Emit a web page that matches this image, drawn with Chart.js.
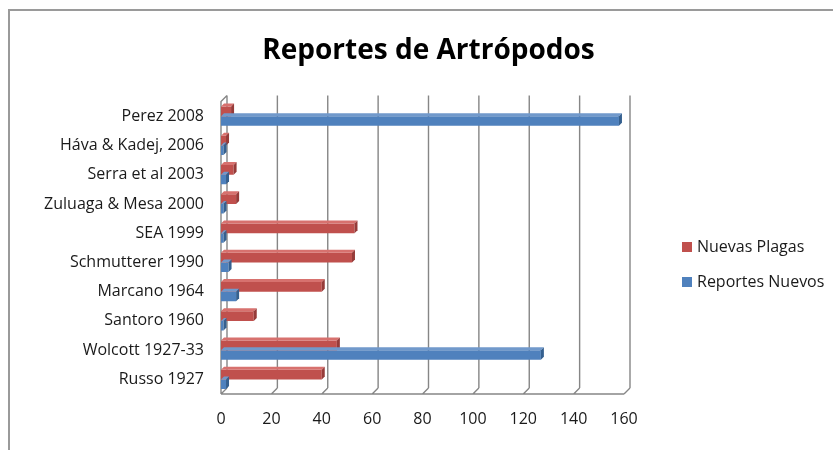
<!DOCTYPE html>
<html>
<head>
<meta charset="utf-8">
<script src="https://cdn.jsdelivr.net/npm/chart.js@4.4.1/dist/chart.umd.min.js"></script>
<style>
  html,body{margin:0;padding:0;background:#fff;}
  #wrap{width:833px;height:450px;}
</style>
</head>
<body>
<div id="wrap"><canvas id="c" width="833" height="450"></canvas></div>
<script>
// ----- data (top to bottom as in the picture) -----
const categories = ["Perez 2008","Háva & Kadej, 2006","Serra et al 2003","Zuluaga & Mesa 2000","SEA 1999",
  "Schmutterer 1990","Marcano 1964","Santoro 1960","Wolcott 1927-33","Russo 1927"];
const nuevasPlagas   = [4, 2, 5, 6, 53, 52, 40, 13, 46, 40];
const reportesNuevos = [158, 1, 2, 1, 1, 3, 6, 1, 127, 2];
const xMin = 0, xMax = 160, xStep = 20;
const seriesNames = ["Nuevas Plagas","Reportes Nuevos"];

const FONT = "'Open Sans', 'DejaVu Sans', sans-serif";
const RED  = {face:"#C0504D", top:"#D7716E", side:"#963B39"};
const BLUE = {face:"#4F81BD", top:"#7199CB", side:"#35608F"};

// frame, back wall, floor and grid (drawn behind the bars)
const wallPlugin = {
  id:"wall",
  beforeDraw(chart){
    const ctx = chart.ctx;
    ctx.save();
    ctx.strokeStyle = "#9a9a9a"; ctx.lineWidth = 2;
    ctx.beginPath(); ctx.moveTo(9, 460); ctx.lineTo(9, 10); ctx.lineTo(840, 10); ctx.stroke();
    ctx.restore();
  },
  beforeDatasetsDraw(chart){
    const {ctx, chartArea:{left,right,top,bottom}} = chart;
    const xs = chart.scales.x, d = 6;
    ctx.save();
    ctx.strokeStyle = "#868686"; ctx.lineWidth = 1.4;
    ctx.beginPath();
    for(let v=xMin; v<=xMax; v+=xStep){
      const px = xs.getPixelForValue(v);
      ctx.moveTo(px+d, top-d); ctx.lineTo(px+d, bottom-d);
      ctx.moveTo(px, bottom);  ctx.lineTo(px+d, bottom-d);
    }
    ctx.moveTo(left, bottom); ctx.lineTo(right, bottom);
    ctx.moveTo(left, bottom); ctx.lineTo(left, top);
    ctx.lineTo(left+d, top-d);
    ctx.stroke();
    ctx.restore();
  }
};

// top and end faces for the 3D look
const depthPlugin = {
  id:"depth",
  afterDatasetsDraw(chart){
    const ctx = chart.ctx, bd = 3;
    [RED, BLUE].forEach((col, i)=>{
      chart.getDatasetMeta(i).data.forEach(el=>{
        const p = el.getProps(["x","y","base","height"], true);
        const y0 = p.y - p.height/2, y1 = p.y + p.height/2;
        ctx.save();
        ctx.fillStyle = col.top;
        ctx.beginPath();
        ctx.moveTo(p.base, y0); ctx.lineTo(p.x, y0);
        ctx.lineTo(p.x+bd, y0-bd); ctx.lineTo(p.base+bd, y0-bd); ctx.closePath(); ctx.fill();
        ctx.fillStyle = col.side;
        ctx.beginPath();
        ctx.moveTo(p.x, y0); ctx.lineTo(p.x+bd, y0-bd);
        ctx.lineTo(p.x+bd, y1-bd); ctx.lineTo(p.x, y1); ctx.closePath(); ctx.fill();
        ctx.restore();
      });
    });
  }
};

// legend to the right of the plot
const legendPlugin = {
  id:"sideLegend",
  afterDraw(chart){
    const ctx = chart.ctx;
    const rows = [{y:247}, {y:282}];
    ctx.save();
    ctx.font = "16px " + FONT; ctx.textBaseline = "middle";
    chart.data.datasets.forEach((ds, i)=>{
      const r = rows[i];
      ctx.fillStyle = ds.backgroundColor;
      ctx.fillRect(682, r.y-5, 10, 10);
      ctx.fillStyle = "#1a1a1a";
      ctx.fillText(ds.label, 697, r.y);
    });
    ctx.restore();
  }
};

new Chart(document.getElementById("c"), {
  type:"bar",
  data:{
    labels: categories,
    datasets:[
      {label:seriesNames[0], data:nuevasPlagas,   backgroundColor:RED.face,  categoryPercentage:0.66, barPercentage:1},
      {label:seriesNames[1], data:reportesNuevos, backgroundColor:BLUE.face, categoryPercentage:0.66, barPercentage:1}
    ]
  },
  options:{
    indexAxis:"y",
    responsive:false,
    animation:false,
    layout:{padding:{left:24, right:0, top:0, bottom:0}},
    plugins:{
      legend:{display:false},
      tooltip:{enabled:false},
      title:{
        display:true, text:"Reportes de Artrópodos", color:"#000",
        font:{family:FONT, size:28, weight:"bold"},
        padding:{top:34, bottom:34}
      }
    },
    scales:{
      x:{
        min:xMin, max:xMax,
        grid:{display:false, drawTicks:false}, border:{display:false},
        ticks:{stepSize:xStep, color:"#1a1a1a", font:{family:FONT, size:16}, padding:16},
        afterFit(s){ s.height = 56; }
      },
      y:{
        grid:{display:false, drawTicks:false}, border:{display:false},
        ticks:{color:"#1a1a1a", font:{family:FONT, size:16}, padding:17},
        afterFit(s){ s.width = 197; }
      },
      yR:{
        position:"right", type:"category", labels:categories,
        grid:{display:false, drawTicks:false}, border:{display:false},
        ticks:{display:false},
        afterFit(s){ s.width = 209; }
      }
    }
  },
  plugins:[wallPlugin, depthPlugin, legendPlugin]
});
</script>
</body>
</html>
